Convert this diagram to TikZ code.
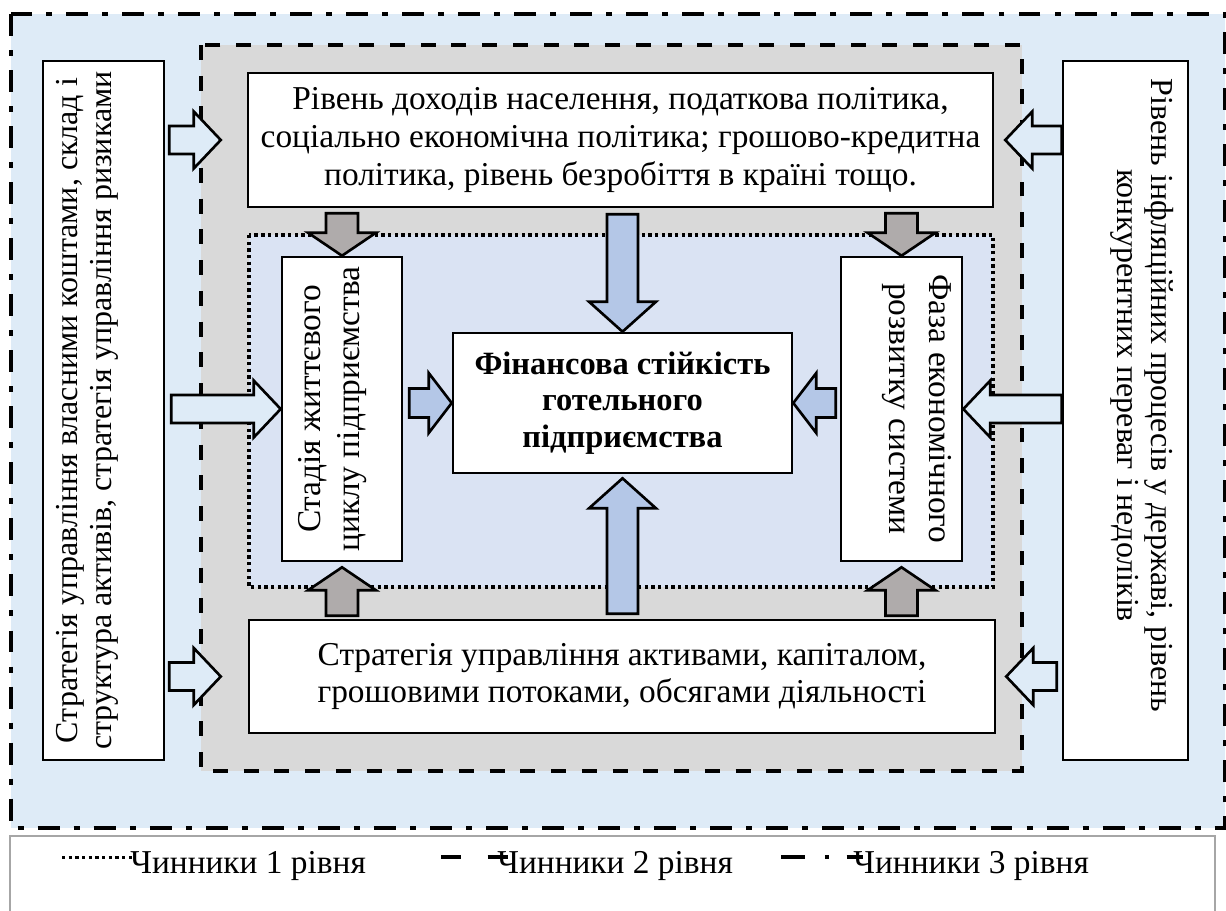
\documentclass[tikz,border=0pt]{standalone}
\usepackage{fontspec}
\setmainfont{Liberation Serif}
\usepackage{graphicx}
\usetikzlibrary{calc}
\definecolor{paleblue}{HTML}{DEEBF7}
\definecolor{midgray}{HTML}{D9D9D9}
\definecolor{lavender}{HTML}{DAE3F3}
\definecolor{arrowblue}{HTML}{B4C7E7}
\definecolor{arrowgray}{HTML}{AFABAB}
\definecolor{legendgray}{HTML}{A6A6A6}

% block arrow sizes: shaft half width, head half width, head length
\newcommand{\arrowsize}[3]{\def\shafthw{#1}\def\headhw{#2}\def\headlen{#3}}
% block arrow: style, from, to, gap at start, gap at end
\newcommand{\fatarrow}[5]{%
  \coordinate (fa-s) at ($(#2)!#4!(#3)$);
  \coordinate (fa-e) at ($(#3)!#5!(#2)$);
  \coordinate (fa-h) at ($(fa-e)!\headlen!(fa-s)$);
  \draw[#1] ($(fa-s)!\shafthw!90:(fa-e)$) -- ($(fa-h)!\shafthw!90:(fa-e)$)
    -- ($(fa-h)!\headhw!90:(fa-e)$) -- (fa-e)
    -- ($(fa-h)!\headhw!-90:(fa-e)$) -- ($(fa-h)!\shafthw!-90:(fa-e)$)
    -- ($(fa-s)!\shafthw!-90:(fa-e)$) -- cycle;
}
% turned text: angle, lines, shift right, shift up
\newcommand{\turned}[4]{\kern#3\raisebox{#4}[\height][\depth]{%
  \rotatebox{#1}{\begin{tabular}{@{}c@{}}#2\end{tabular}}}\kern-#3}

\begin{document}
\begin{tikzpicture}[x=0.02cm, y=-0.02cm,
    box/.style={draw, line width=1.5pt, fill=white, inner sep=0pt, align=center,
      font=\fontsize{19}{21.6}\selectfont},
    sidebox/.style={box, font=\fontsize{18.2}{19.3}\selectfont},
    innerbox/.style={box, font=\fontsize{19}{22.5}\selectfont},
    corebox/.style={box, font=\fontsize{18.5}{20.7}\selectfont\bfseries},
    outerframe/.style={line width=2.8pt, dash pattern=on 12.5pt off 8pt on 3.4pt off 8pt},
    midframe/.style={line width=2.3pt, dash pattern=on 8.5pt off 9pt},
    innerframe/.style={line width=1.9pt, dash pattern=on 1.9pt off 1.9pt},
    outerarrow/.style={draw, line width=1.5pt, fill=paleblue, line join=miter},
    grayarrow/.style={outerarrow, fill=arrowgray},
    bluearrow/.style={outerarrow, fill=arrowblue},
    legtext/.style={anchor=west, inner sep=0pt, font=\fontsize{19}{21.6}\selectfont}]
  \path[use as bounding box, clip] (0,0) rectangle (1226,910);

  % Рамки рівнів
  \draw[outerframe, fill=paleblue] (11,14) rectangle (1225,828);
  \draw[midframe, fill=midgray] (201,45) rectangle (1022,771);
  \draw[innerframe, fill=lavender] (249,235) rectangle (993,587);

  % Блоки
  \node[sidebox, minimum width=2.42cm, minimum height=13.98cm] (leftbox) at (103.5,410.5)
    {\turned{90}{Стратегія управління власними коштами, склад і\\
      структура активів, стратегія управління ризиками}{-0.32cm}{0cm}};
  \node[sidebox, minimum width=2.5cm, minimum height=13.98cm] (rightbox) at (1125.5,410.5)
    {\turned{-90}{Рівень інфляційних процесів у державі, рівень\\
      конкурентних переваг і недоліків}{0.32cm}{0.3cm}};
  \node[box, minimum width=14.9cm, minimum height=2.68cm] (toprow) at (620.5,140)
    {Рівень доходів населення, податкова політика,\\
     соціально економічна політика; грошово-кредитна\\
     політика, рівень безробіття в країні тощо.};
  \node[box, minimum width=14.92cm, minimum height=2.26cm] (botrow) at (622,676.5)
    {Стратегія управління активами, капіталом,\\
     грошовими потоками, обсягами діяльності};
  \node[innerbox, minimum width=2.4cm, minimum height=6.08cm] (stage) at (342,409)
    {\turned{90}{Стадія життєвого\\ циклу підприємства}{-0.2cm}{0cm}};
  \node[innerbox, minimum width=2.42cm, minimum height=6.08cm] (phase) at (901.5,409)
    {\turned{-90}{Фаза економічного\\ розвитку системи}{0.32cm}{0cm}};
  \node[corebox, minimum width=6.78cm, minimum height=2.8cm] (core) at (622.5,403)
    {Фінансова стійкість\\ готельного\\ підприємства};

  % Чинники 3 рівня
  \arrowsize{0.28cm}{0.57cm}{0.54cm}
  \fatarrow{outerarrow}{leftbox.east |- toprow.west}{toprow.west}{0.08cm}{0.52cm}
  \fatarrow{outerarrow}{leftbox.east |- stage.west}{stage.west}{0.12cm}{0cm}
  \fatarrow{outerarrow}{leftbox.east |- botrow.west}{botrow.west}{0.08cm}{0.54cm}
  \fatarrow{outerarrow}{rightbox.west |- toprow.east}{toprow.east}{0cm}{0.22cm}
  \fatarrow{outerarrow}{rightbox.west |- phase.east}{phase.east}{0cm}{0cm}
  \fatarrow{outerarrow}{rightbox.west |- botrow.east}{botrow.east}{0.1cm}{0.2cm}

  % Чинники 2 рівня
  \arrowsize{0.32cm}{0.68cm}{0.46cm}
  \fatarrow{grayarrow}{toprow.south -| stage.north}{stage.north}{0.1cm}{0cm}
  \fatarrow{grayarrow}{toprow.south -| phase.north}{phase.north}{0.1cm}{0cm}
  \fatarrow{grayarrow}{botrow.north -| stage.south}{stage.south}{0.06cm}{0.1cm}
  \fatarrow{grayarrow}{botrow.north -| phase.south}{phase.south}{0.06cm}{0.1cm}

  % Чинники 1 рівня
  \arrowsize{0.31cm}{0.67cm}{0.6cm}
  \fatarrow{bluearrow}{toprow.south -| core.north}{core.north}{0.12cm}{0cm}
  \fatarrow{bluearrow}{botrow.north -| core.south}{core.south}{0.1cm}{0.08cm}
  \arrowsize{0.29cm}{0.6cm}{0.46cm}
  \fatarrow{bluearrow}{stage.east |- core.west}{core.west}{0.12cm}{0cm}
  \fatarrow{bluearrow}{phase.west |- core.east}{core.east}{0.08cm}{0cm}

  % Легенда
  \draw[legendgray, line width=1.2pt, fill=white] (10,836) rectangle (1215,930);
  \node[legtext] (leg1) at (130,866) {Чинники 1 рівня};
  \node[legtext] (leg2) at (497,866) {Чинники 2 рівня};
  \node[legtext] (leg3) at (853,866) {Чинники 3 рівня};
  \draw[line width=1.7pt, dash pattern=on 1.9pt off 1.9pt]
    ($(leg1.west)+(-68,-9)$) -- ($(leg1.west)+(3,-9)$);
  \draw[line width=2.8pt, dash pattern=on 11.3pt off 15.3pt]
    ($(leg2.west)+(-56,-9)$) -- ($(leg2.west)+(12,-9)$);
  \draw[line width=2.8pt, dash pattern=on 13.6pt off 11.3pt on 2.3pt off 10.2pt]
    ($(leg3.west)+(-72,-9)$) -- ($(leg3.west)+(10,-9)$);
\end{tikzpicture}
\end{document}
